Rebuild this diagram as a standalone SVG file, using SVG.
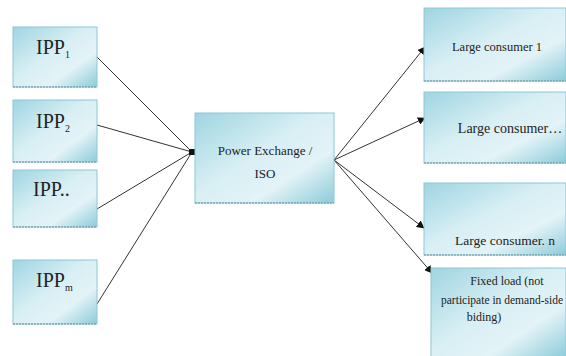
<svg xmlns="http://www.w3.org/2000/svg" width="566" height="356" viewBox="0 0 566 356">
  <defs>
    <linearGradient id="boxFill" x1="0" y1="0" x2="1" y2="1">
      <stop offset="0" stop-color="#9fd5e1"/>
      <stop offset="0.45" stop-color="#d8eff4"/>
      <stop offset="0.7" stop-color="#e3f3f7"/>
      <stop offset="1" stop-color="#8ccbd9"/>
    </linearGradient>
    <marker id="arrow" viewBox="0 0 10 10" refX="9" refY="5" markerWidth="8" markerHeight="8" orient="auto" markerUnits="userSpaceOnUse">
      <path d="M0,0 L10,5 L0,10 z" fill="#111"/>
    </marker>
  </defs>
  <style>
    .box { fill: url(#boxFill); stroke: #8cc8d6; stroke-width: 1; }
    .base { stroke: #6a8f99; stroke-width: 1.2; stroke-dasharray: 2 1; }
    .ipp { font-size: 20px; }
    .sub { font-size: 10px; }
    .lbl { text-anchor: middle; }
    .wire { stroke: #333; stroke-width: 1; fill: none; }
  </style>
  <rect width="566" height="356" fill="#fff"/>

  <g id="connectors">
    <line class="wire" x1="97" y1="57" x2="192" y2="152"/>
    <line class="wire" x1="97" y1="125" x2="192" y2="152"/>
    <line class="wire" x1="97" y1="209" x2="192" y2="152"/>
    <line class="wire" x1="97" y1="304" x2="192" y2="152"/>
    <rect x="189" y="149" width="6" height="6" fill="#111"/>
    <line class="wire" x1="334" y1="160" x2="425" y2="47" marker-end="url(#arrow)"/>
    <line class="wire" x1="334" y1="160" x2="425" y2="118" marker-end="url(#arrow)"/>
    <line class="wire" x1="334" y1="160" x2="424" y2="228" marker-end="url(#arrow)"/>
    <line class="wire" x1="334" y1="160" x2="432" y2="273" marker-end="url(#arrow)"/>
  </g>

  <g font-family="Liberation Serif, Times New Roman, serif" fill="#222">
    <g id="ipp1">
      <rect class="box" x="13" y="27" width="84" height="60"/>
      <line class="base" x1="13" y1="87" x2="97" y2="87"/>
      <text class="ipp" x="36" y="54">IPP<tspan class="sub" dy="4">1</tspan></text>
    </g>
    <g id="ipp2">
      <rect class="box" x="13" y="100" width="84" height="62"/>
      <line class="base" x1="13" y1="162" x2="97" y2="162"/>
      <text class="ipp" x="36" y="128">IPP<tspan class="sub" dy="4">2</tspan></text>
    </g>
    <g id="ipp-dots">
      <rect class="box" x="13" y="170" width="84" height="57"/>
      <line class="base" x1="13" y1="227" x2="97" y2="227"/>
      <text class="ipp" x="33" y="196">IPP..</text>
    </g>
    <g id="ipp-m">
      <rect class="box" x="13" y="260" width="84" height="64"/>
      <line class="base" x1="13" y1="324" x2="97" y2="324"/>
      <text class="ipp" x="36" y="287">IPP<tspan class="sub" dy="4">m</tspan></text>
    </g>

    <g id="exchange">
      <rect class="box" x="195" y="113" width="139" height="90"/>
      <line class="base" x1="195" y1="203" x2="334" y2="203"/>
      <text class="lbl" x="265" y="155" font-size="13">Power Exchange /</text>
      <text class="lbl" x="265" y="178" font-size="13">ISO</text>
    </g>

    <g id="consumer1">
      <rect class="box" x="424" y="8" width="142" height="73"/>
      <line class="base" x1="424" y1="81" x2="566" y2="81"/>
      <text class="lbl" x="497" y="51" font-size="12.5">Large consumer 1</text>
    </g>
    <g id="consumer-dots">
      <rect class="box" x="424" y="92" width="142" height="71"/>
      <line class="base" x1="424" y1="163" x2="566" y2="163"/>
      <text class="lbl" x="510" y="133" font-size="14">Large consumer…</text>
    </g>
    <g id="consumer-n">
      <rect class="box" x="424" y="183" width="142" height="72"/>
      <line class="base" x1="424" y1="255" x2="566" y2="255"/>
      <text class="lbl" x="505" y="245" font-size="13.5">Large consumer. n</text>
    </g>
    <g id="fixed-load">
      <rect class="box" x="431" y="268" width="135" height="90"/>
      <text class="lbl" x="507" y="285" font-size="12">Fixed load (not</text>
      <text class="lbl" x="502" y="304" font-size="11.5">participate in demand-side</text>
      <text class="lbl" x="484" y="321" font-size="12">biding)</text>
    </g>
  </g>
</svg>
